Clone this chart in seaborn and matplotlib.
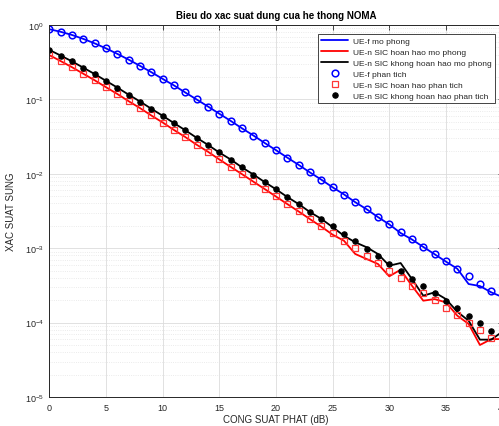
import numpy as np
import pandas as pd
import seaborn as sns
import matplotlib
matplotlib.use("Agg")
import matplotlib.pyplot as plt
from matplotlib.ticker import LogLocator, NullFormatter, MultipleLocator

# SNR axis (dB)
snr_db = list(range(0, 41))

# UE-f (far user) - analytic and simulated outage probability
uef_analytic = [0.8775, 0.811, 0.734, 0.651, 0.567, 0.485, 0.410, 0.342, 0.283, 0.232,
                0.189, 0.154, 0.124, 0.0999, 0.0802, 0.0643, 0.0514, 0.0410, 0.0327, 0.0261,
                0.0208, 0.01654, 0.01316, 0.01047, 0.00833, 0.00662, 0.00526, 0.00418, 0.00332, 0.00264,
                0.00210, 0.00167, 0.00132, 0.00105, 0.000836, 0.000664, 0.000528, 0.000419, 0.000333, 0.000264,
                0.000210]
uef_sim = [0.8779, 0.8105, 0.7345, 0.6508, 0.5668, 0.4853, 0.4097, 0.3423, 0.2828, 0.2323,
           0.1888, 0.1542, 0.1238, 0.0998, 0.0803, 0.0642, 0.0515, 0.0409, 0.0328, 0.0260,
           0.0208, 0.01650, 0.01320, 0.01043, 0.00835, 0.00658, 0.00529, 0.00415, 0.00334, 0.00262,
           0.00209, 0.00160, 0.00131, 0.00104, 0.000830, 0.000660, 0.000530, 0.000330, 0.000310, 0.000255,
           0.000220]

# UE-n perfect SIC
uen_p_analytic = [0.3935, 0.3278, 0.2706, 0.2217, 0.1805, 0.1462, 0.1180, 0.0949, 0.0762, 0.0610,
                  0.0488, 0.0390, 0.0311, 0.0247, 0.0197, 0.0157, 0.0125, 0.00993, 0.00789, 0.00628,
                  0.00499, 0.00396, 0.00315, 0.00250, 0.00199, 0.00158, 0.00126, 0.000998, 0.000792, 0.000630,
                  0.000500, 0.000397, 0.000315, 0.000251, 0.000199, 0.000158, 0.000126, 0.0000998, 0.0000792, 0.0000630,
                  0.0000500]
uen_p_sim = [0.3940, 0.3275, 0.2710, 0.2214, 0.1808, 0.1460, 0.1183, 0.0946, 0.0765, 0.0608,
             0.0490, 0.0388, 0.0312, 0.0246, 0.0198, 0.0156, 0.0124, 0.00990, 0.00785, 0.00625,
             0.00495, 0.00392, 0.00312, 0.00246, 0.00195, 0.00152, 0.00126, 0.000836, 0.000716, 0.000614,
             0.000419, 0.000514, 0.000313, 0.000197, 0.000207, 0.000187, 0.000124, 0.0000960, 0.0000500, 0.0000600,
             0.0000600]

# UE-n imperfect SIC
uen_i_analytic = [0.462, 0.389, 0.324, 0.267, 0.219, 0.178, 0.144, 0.116, 0.0936, 0.0751,
                  0.0601, 0.0481, 0.0384, 0.0306, 0.0244, 0.0194, 0.0155, 0.0123, 0.00978, 0.00778,
                  0.00618, 0.00491, 0.00390, 0.00310, 0.00247, 0.00196, 0.00156, 0.00124, 0.000983, 0.000781,
                  0.000620, 0.000492, 0.000391, 0.000311, 0.000247, 0.000196, 0.000156, 0.000124, 0.0000983, 0.0000781,
                  0.0000620]
uen_i_sim = [0.4625, 0.3887, 0.3245, 0.2668, 0.2193, 0.1778, 0.1443, 0.1158, 0.0938, 0.0749,
             0.0603, 0.0480, 0.0385, 0.0305, 0.0245, 0.0193, 0.0156, 0.0122, 0.00980, 0.00775,
             0.00620, 0.00488, 0.00392, 0.00306, 0.00248, 0.00192, 0.00147, 0.00120, 0.00103, 0.000836,
             0.000582, 0.000632, 0.000385, 0.000230, 0.000255, 0.000207, 0.000140, 0.000106, 0.0000590, 0.0000590,
             0.0000760]

labels_sim = ["UE-f mo phong", "UE-n SIC hoan hao mo phong", "UE-n SIC khong hoan hao mo phong"]
labels_ana = ["UE-f phan tich", "UE-n SIC hoan hao phan tich", "UE-n SIC khong hoan hao phan tich"]

sns.set_style("white")
plt.rcParams['font.family'] = ['Liberation Sans', 'DejaVu Sans']

fig = plt.figure(figsize=(4.99, 4.27), dpi=100)
ax = fig.add_axes([49.3 / 499, 1 - 398 / 427, 453.3 / 499, 372 / 427])

sim_series = [uef_sim, uen_p_sim, uen_i_sim]
colors = ["#0000ff", "#ff0000", "#000000"]

for vals, lab, col in zip(sim_series, labels_sim, colors):
    sns.lineplot(x=snr_db, y=vals, color=col, label=lab, linewidth=1.3, ax=ax)

# analytic markers
sns.lineplot(x=snr_db, y=uef_analytic, label=labels_ana[0], linestyle='', marker='o',
             markersize=4.8, markerfacecolor='none', markeredgecolor='#0000ff',
             markeredgewidth=1.1, color='#0000ff', ax=ax)
sns.lineplot(x=snr_db, y=uen_p_analytic, label=labels_ana[1], linestyle='', marker='s',
             markersize=4.0, markerfacecolor='none', markeredgecolor='#ff3535',
             markeredgewidth=0.9, color='#ff0000', ax=ax)
sns.lineplot(x=snr_db, y=uen_i_analytic, label=labels_ana[2], linestyle='', marker='o',
             markersize=3.9, markerfacecolor='black', markeredgecolor='black',
             color='black', ax=ax)

ax.set_yscale('log')
ax.set_xlim(0, 40)
ax.set_ylim(1e-5, 1)
ax.xaxis.set_major_locator(MultipleLocator(5))
ax.yaxis.set_major_locator(LogLocator(base=10, numticks=10))
ax.yaxis.set_minor_locator(LogLocator(base=10, subs=np.arange(2, 10), numticks=20))
ax.yaxis.set_minor_formatter(NullFormatter())

ax.grid(True, which='major', color='#dcdcdc', linewidth=0.6)
ax.grid(True, which='minor', axis='y', color='#e4e4e4', linestyle=':', linewidth=0.6)
ax.set_axisbelow(True)

for s in ax.spines.values():
    s.set_color('#262626')
    s.set_linewidth(0.7)
ax.tick_params(which='both', direction='in', top=True, right=True, colors='#262626',
               labelsize=6.5, width=0.6)
ax.tick_params(which='major', length=3.5, pad=4)
ax.tick_params(which='minor', length=2)

ax.set_title("Bieu do xac suat dung cua he thong NOMA", fontsize=7, fontweight='bold',
             color='black', pad=5)
ax.set_xlabel("CONG SUAT PHAT (dB)", fontsize=7, color='#262626', labelpad=2)
ax.set_ylabel("XAC SUAT SUNG", fontsize=7, color='#262626', labelpad=6)

leg = ax.legend(loc='upper right', bbox_to_anchor=(495 / 499, 1 - 35 / 427),
                bbox_transform=fig.transFigure, borderaxespad=0, fontsize=6.0,
                fancybox=False, framealpha=1, edgecolor='#262626',
                handlelength=3.3, labelspacing=0.38, borderpad=0.35, handletextpad=0.6)
leg.get_frame().set_linewidth(0.6)

fig.savefig("out.png", dpi=100)
